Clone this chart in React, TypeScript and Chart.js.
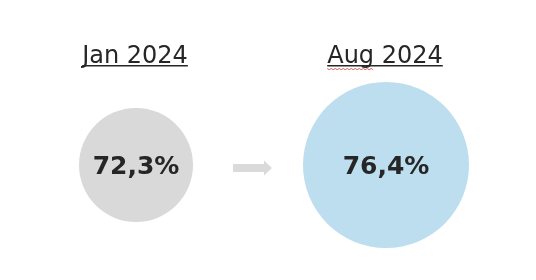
import React, { useEffect, useRef } from "react";
import { Chart, registerables } from "chart.js";

Chart.register(...registerables);

const periods = ["Jan 2024", "Aug 2024"];
const shares = [72.3, 76.4];
const bubbleRadius = [57, 83];
const positions = [1, 2];

const fillColors = ["#d9d9d9", "#bddeee"];
const textColor = "#262626";
const FONT = "'DejaVu Sans', sans-serif";

const fmt = (v: number) => v.toFixed(1).replace(".", ",") + "%";

const labelsPlugin = {
  id: "bubbleLabels",
  afterDatasetsDraw(chart: any) {
    const ctx = chart.ctx;
    const meta = chart.getDatasetMeta(0);
    ctx.save();
    meta.data.forEach((el: any, i: number) => {
      const x = el.x;
      const y = el.y;
      // value
      ctx.font = `bold 25px ${FONT}`;
      ctx.fillStyle = textColor;
      ctx.textAlign = "center";
      ctx.textBaseline = "middle";
      ctx.fillText(fmt(shares[i]), x, y + 2);
      // title
      ctx.font = `24px ${FONT}`;
      ctx.textBaseline = "alphabetic";
      const title = periods[i];
      const w = ctx.measureText(title).width;
      const ty = 63;
      ctx.fillText(title, x - 1, ty);
      ctx.fillStyle = textColor;
      ctx.fillRect(x - 1 - w / 2, ty + 2, w, 1.5);
      if (i === 1) {
        // spell-check style wavy underline under "Aug"
        const aw = ctx.measureText("Aug").width;
        ctx.strokeStyle = "#d06060";
        ctx.lineWidth = 1;
        ctx.beginPath();
        const sx = x - 1 - w / 2;
        for (let k = 0; k <= aw; k += 2) {
          const yy = ty + 5.5 + (k % 4 === 0 ? 0 : 1.2);
          if (k === 0) ctx.moveTo(sx + k, yy);
          else ctx.lineTo(sx + k, yy);
        }
        ctx.stroke();
      }
    });
    // arrow between the bubbles
    const a = meta.data[0];
    const b = meta.data[1];
    const mid = (a.x + b.x) / 2;
    const cy = a.y + 3;
    const x0 = mid - 28;
    const x1 = mid + 11;
    ctx.fillStyle = "#dadada";
    ctx.beginPath();
    ctx.moveTo(x0, cy - 4);
    ctx.lineTo(x1 - 8, cy - 4);
    ctx.lineTo(x1 - 8, cy - 7.5);
    ctx.lineTo(x1, cy);
    ctx.lineTo(x1 - 8, cy + 7.5);
    ctx.lineTo(x1 - 8, cy + 4);
    ctx.lineTo(x0, cy + 4);
    ctx.closePath();
    ctx.fill();
    ctx.restore();
  },
};

export default function App() {
  const ref = useRef<HTMLCanvasElement>(null);
  useEffect(() => {
    document.body.style.margin = "0";
    const chart = new Chart(ref.current!, {
      type: "bubble",
      data: {
        datasets: [
          {
            data: positions.map((p, i) => ({ x: p, y: 0, r: bubbleRadius[i] })),
            backgroundColor: fillColors,
            borderWidth: 0,
            hoverBorderWidth: 0,
            clip: false,
          },
        ],
      },
      options: {
        animation: false,
        responsive: false,
        layout: { padding: 0, autoPadding: false },
        plugins: { legend: { display: false }, tooltip: { enabled: false } },
        scales: {
          x: { type: "linear", min: 0.456, max: 2.6, display: false },
          y: { type: "linear", min: -1, max: 165 / 115, display: false },
        },
      },
      plugins: [labelsPlugin],
    });
    return () => chart.destroy();
  }, []);
  return (
    <div style={{ width: 536, height: 280, background: "#fff" }}>
      <canvas ref={ref} width={536} height={280} />
    </div>
  );
}
